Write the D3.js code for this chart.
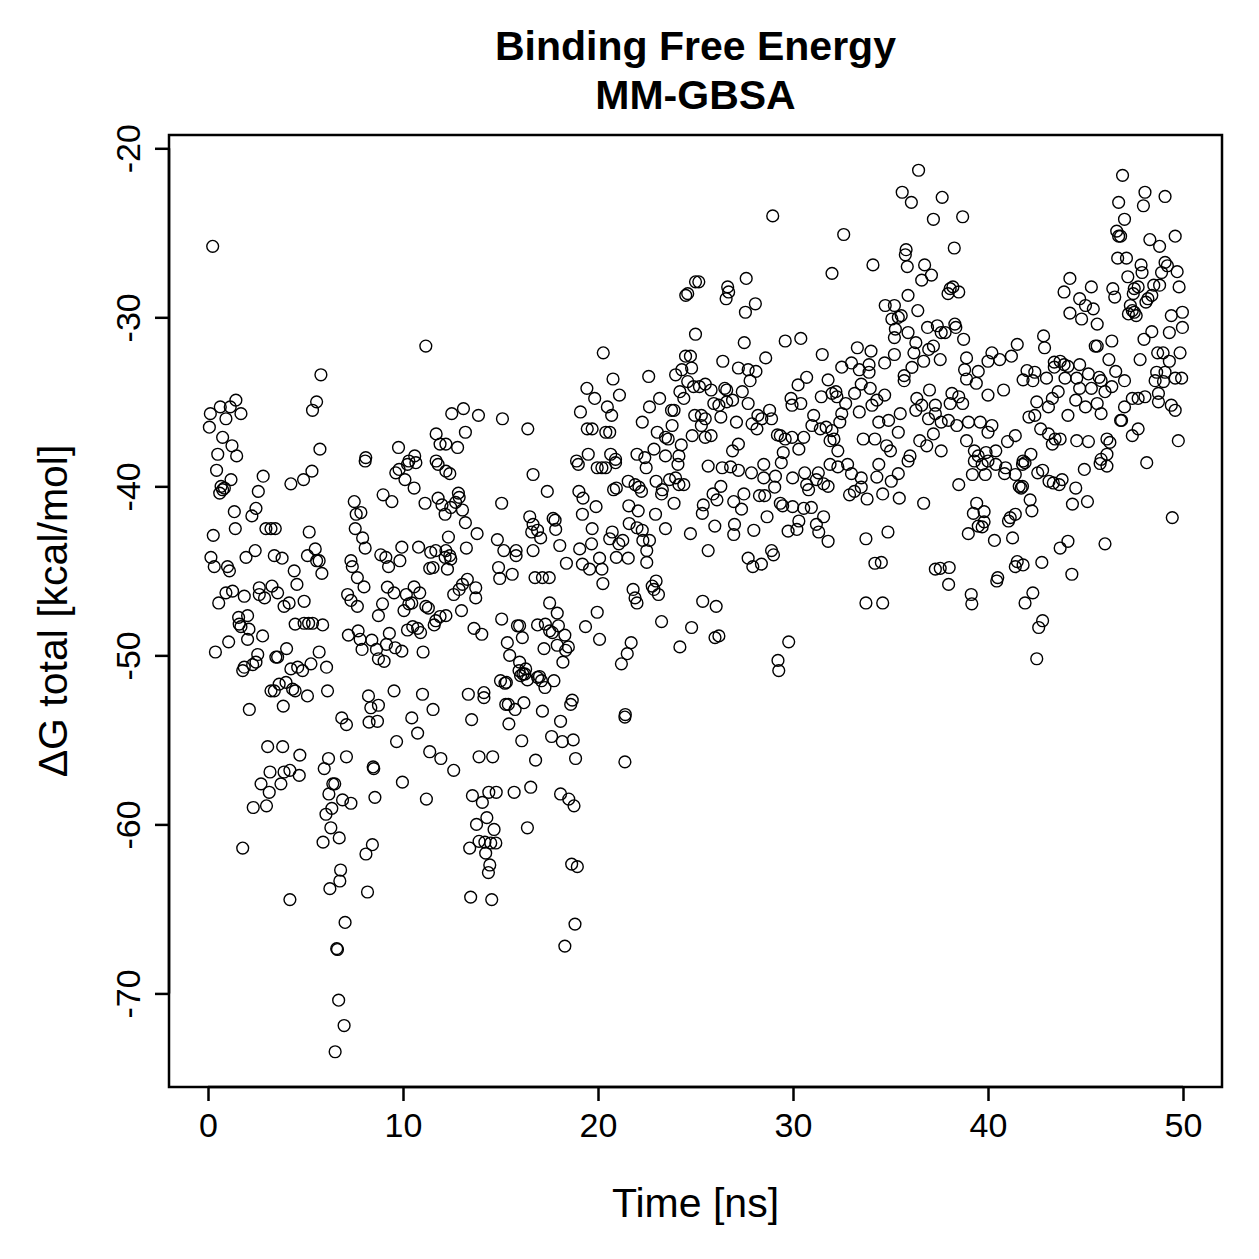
<!DOCTYPE html>
<html>
<head>
<meta charset="utf-8">
<script src="https://cdn.jsdelivr.net/npm/d3@7"></script>
<style>
  html, body { margin: 0; padding: 0; background: #fff; }
  text { font-family: "Liberation Sans", Arial, Helvetica, sans-serif; fill: #000; }
</style>
</head>
<body>
<div id="chart"></div>
<script>
// chart text
const titleLines = ["Binding Free Energy", "MM-GBSA"];
const xLabel = "Time [ns]";
const yLabel = "\u0394G total [kcal/mol]";

// axis ticks
const xTicks = [0, 10, 20, 30, 40, 50];
const yTicks = [-70, -60, -50, -40, -30, -20];
const timeSpan = [0, 50];

// [time (ns), dG total (kcal/mol)]
const frames = [
  [0.24,-25.8],[11.17,-31.7],[5.79,-33.4],[5.57,-35.0],[5.36,-35.5],[1.43,-34.9],[0.63,-35.3],[1.14,-35.3],[0.12,-35.7],[0.92,-36.0],
  [1.69,-35.7],[0.07,-36.5],[0.75,-37.1],[1.23,-37.6],[0.5,-38.1],[1.47,-38.2],[5.74,-37.8],[8.09,-38.3],[9.77,-37.7],[10.6,-38.2],
  [11.7,-36.9],[11.9,-37.5],[11.7,-38.5],[10.3,-38.5],
  [20.27,-32.1],[24.5,-28.7],[24.6,-28.6],[25.0,-27.9],[25.0,-31.0],[24.49,-32.3],[24.74,-32.3],[24.3,-33.1],[24.8,-33.0],[23.98,-33.4],
  [24.6,-33.8],[24.9,-34.1],[24.2,-34.4],[24.4,-34.8],[22.6,-33.5],[23.16,-34.8],[22.64,-35.3],[22.27,-36.2],[23.04,-36.8],[23.46,-37.1],
  [23.6,-37.2],[24.27,-37.55],[22.87,-37.8],[23.46,-38.2],[24.15,-38.2],[23.8,-36.4],[23.77,-35.5],[23.9,-35.5],[24.96,-35.8],[24.83,-37.0],
  [20.77,-33.65],[19.43,-34.2],[19.83,-34.8],[21.1,-34.6],[20.48,-35.3],[20.7,-35.8],[19.1,-35.6],[19.45,-36.6],[19.7,-36.6],[20.4,-36.8],
  [20.6,-36.8],[19.5,-38.1],[20.65,-38.1],[22.0,-38.1],[22.4,-38.3],[20.9,-38.4],[18.9,-38.5],[12.5,-35.7],[13.1,-35.4],[13.87,-35.8],
  [15.1,-36.0],[16.4,-36.6],[13.2,-36.8],[12.8,-37.7],[12.2,-37.5],
  [36.44,-21.3],[35.6,-22.6],[36.07,-23.2],[37.65,-22.9],[37.2,-24.2],[28.96,-24.0],[32.6,-25.1],[35.8,-26.0],[35.76,-26.3],[35.86,-27.0],
  [36.75,-26.9],[37.1,-27.5],[36.6,-27.8],[34.1,-26.9],[32.0,-27.4],[27.6,-27.7],[26.65,-28.2],[26.7,-28.5],[26.57,-28.9],[25.17,-27.9],
  [28.07,-29.2],[27.56,-29.7],[27.5,-31.5],[29.6,-31.4],[30.4,-31.25],[26.4,-32.6],[27.2,-33.0],[27.7,-33.1],[28.1,-33.2],[28.6,-32.4],
  [27.8,-33.75],[25.2,-34.1],[25.5,-33.95],[25.8,-34.3],[26.5,-34.2],[26.6,-34.3],[27.4,-34.4],[25.94,-35.1],[26.2,-35.2],[26.6,-35.0],
  [26.9,-34.9],[27.7,-35.1],[25.3,-35.8],[25.5,-36.0],[26.3,-35.9],[27.1,-36.2],[25.3,-36.4],[25.5,-37.1],[25.8,-37.0],[26.9,-37.9],
  [27.2,-37.5],[27.9,-36.3],[28.15,-36.6],[28.4,-36.0],[28.8,-35.5],[28.9,-36.0],[28.2,-35.8],
  [29.9,-34.8],[29.95,-35.2],[30.4,-35.1],[30.26,-34.0],[30.7,-33.55],[31.8,-33.7],[31.5,-32.2],[31.45,-34.7],[32.0,-34.5],[32.2,-34.4],
  [32.25,-34.7],[32.7,-35.1],[33.16,-34.5],[33.5,-33.95],[33.3,-31.8],[34.0,-32.0],[32.5,-32.95],[33.0,-32.7],[33.4,-33.1],[33.9,-32.8],
  [33.9,-33.25],[33.96,-34.2],[34.7,-34.6],[34.3,-34.9],[34.05,-35.2],[33.4,-35.6],[32.5,-35.7],[32.4,-36.2],[32.0,-36.7],[31.06,-35.8],
  [30.97,-36.4],[31.4,-36.6],[31.7,-36.5],[29.35,-37.0],[29.6,-37.2],[29.95,-37.1],[30.55,-37.1],[29.2,-36.96],[29.5,-38.0],[30.3,-37.8],
  [31.9,-37.3],[32.1,-37.2],[32.3,-37.9],[33.6,-37.2],[34.2,-37.2],[34.4,-36.2],[34.9,-36.1],[34.8,-37.6],[35.5,-35.7],[35.4,-36.8],
  [35.0,-37.9],[36.0,-38.2],
  [34.73,-29.3],[35.2,-29.3],[35.07,-30.1],[35.4,-30.0],[35.55,-29.9],[35.25,-30.7],[35.9,-28.7],[36.4,-29.6],[36.9,-30.6],[37.4,-30.5],
  [37.6,-30.9],[35.9,-30.9],[35.2,-31.2],[36.3,-31.5],[37.2,-31.7],[36.96,-31.9],[37.55,-32.5],[36.2,-32.1],[36.7,-32.6],[36.1,-32.96],
  [35.7,-33.45],[35.7,-33.75],[35.2,-32.2],[34.7,-32.7],[37.0,-34.3],[36.35,-34.8],[36.6,-35.2],[37.3,-35.2],[36.3,-35.5],[37.3,-35.7],
  [36.95,-36.0],[37.6,-36.2],[37.2,-36.9],[36.5,-37.3],[36.86,-37.6],[37.6,-37.9],
  [46.9,-21.6],[48.05,-22.6],[47.97,-23.4],[49.08,-22.85],[46.7,-23.2],[47.0,-24.2],[46.6,-24.9],[46.7,-25.2],[46.8,-25.2],[48.3,-25.4],
  [48.8,-25.8],[49.6,-25.2],[46.65,-26.5],[47.1,-26.5],
  [47.85,-26.9],[47.9,-27.35],[49.08,-26.75],[49.2,-26.95],[48.9,-27.35],[49.7,-27.3],[48.8,-28.1],[49.8,-28.2],[48.5,-28.1],[47.17,-27.6],
  [47.5,-28.3],[47.7,-28.2],[47.45,-28.6],[48.2,-28.9],[48.1,-29.1],[48.4,-28.7],[47.3,-29.3],[47.4,-29.6],[47.6,-29.9],[47.2,-29.8],
  [47.5,-29.7],[46.4,-28.3],[46.5,-28.8],
  [49.4,-29.9],[49.97,-29.7],[49.3,-30.9],[49.97,-30.6],[48.4,-30.85],[48.0,-31.3],[49.85,-32.1],[48.7,-32.1],[48.98,-32.1],[49.3,-32.6],
  [47.8,-32.5],[48.65,-33.25],[49.08,-33.25],[48.57,-33.75],[49.0,-33.8],[49.6,-33.6],[49.93,-33.6],[48.74,-34.5],[48.74,-35.0],[49.6,-35.5],
  [49.4,-35.2],[47.0,-35.3],[47.4,-34.8],[47.7,-34.8],[48.05,-34.7],[46.8,-36.1],[47.4,-37.0],[47.7,-36.6],[49.76,-37.3],
  [38.7,-24.05],[38.27,-25.9],[38.06,-28.3],[38.2,-28.2],[38.5,-28.5],[37.95,-28.6],[38.3,-30.4],[38.35,-30.6],[38.75,-31.3],[37.8,-30.9],
  [38.9,-32.4],[38.8,-33.1],[38.9,-33.65],[39.5,-33.2],[39.4,-33.9],[40.2,-32.1],[40.0,-32.6],[40.6,-32.5],[41.2,-32.3],[41.5,-31.6],
  [40.8,-34.3],[40.0,-34.6],[38.15,-34.5],[38.5,-34.7],[38.7,-35.1],[38.06,-35.1],[39.0,-36.2],[39.6,-36.2],[40.2,-36.4],[40.0,-36.8],
  [41.0,-37.35],[41.4,-37.0],[38.4,-36.4],[37.97,-36.1],[38.9,-37.3],[39.3,-37.9],[39.9,-38.0],[40.4,-37.9],[39.5,-38.2],
  [42.85,-31.1],[42.9,-31.8],[41.8,-33.7],[42.0,-33.15],[42.4,-33.25],[42.3,-33.75],[43.0,-33.6],[43.4,-32.65],[43.7,-32.6],[43.9,-32.8],
  [43.4,-32.95],[44.1,-32.9],[44.7,-32.8],[43.95,-33.6],[44.55,-33.6],[45.15,-33.35],[45.7,-33.55],[45.8,-33.75],[46.55,-33.2],[47.0,-33.75],
  [46.2,-32.5],[46.35,-31.4],[45.6,-31.7],[45.5,-31.7],[42.5,-35.0],[43.3,-34.8],[43.6,-34.4],[43.1,-35.3],[42.4,-35.8],[42.1,-35.9],
  [44.1,-35.8],[44.5,-34.9],[45.0,-35.3],[45.6,-35.1],[45.8,-35.7],[44.7,-34.2],[45.3,-34.2],[46.0,-34.4],[46.35,-34.1],[42.7,-36.6],
  [43.1,-36.9],[43.3,-37.5],[43.44,-37.2],[43.7,-37.2],[44.55,-37.3],[45.15,-37.35],[46.1,-37.2],[46.25,-37.4],[46.85,-36.1],[41.8,-38.5],
  [42.2,-38.1],[46.1,-38.1],[45.8,-38.4],
  [44.2,-27.7],[43.9,-28.5],[45.3,-28.2],[44.7,-28.9],[45.0,-29.3],[45.4,-29.5],[44.2,-29.75],[44.8,-30.1],[45.6,-30.4],
  [0.44,-39.05],[1.18,-39.6],[0.67,-40.0],[0.75,-40.2],[0.6,-40.4],[0.84,-40.1],[2.83,-39.4],[2.58,-40.3],[1.35,-41.5],[2.46,-41.3],
  [2.25,-41.75],[1.4,-42.5],[0.27,-42.9],[2.97,-42.5],[3.23,-42.5],[3.45,-42.5],[4.25,-39.85],[4.9,-39.6],[5.33,-39.1],[5.19,-42.7],
  [0.15,-44.2],[0.32,-44.75],[1.0,-44.75],[1.1,-45.0],[1.95,-44.2],[2.42,-43.8],[3.4,-44.1],[3.8,-44.25],[5.1,-44.1],[5.5,-43.7],
  [5.57,-44.4],[5.7,-44.4],[4.42,-45.0],[5.84,-45.15],[4.56,-45.8],
  [0.55,-46.9],[0.92,-46.3],[1.26,-46.2],[1.86,-46.5],[2.63,-46.0],[2.63,-46.4],[2.9,-46.6],[3.28,-45.9],[3.57,-46.3],[3.9,-47.1],
  [4.16,-46.9],[4.93,-46.8],
  [1.57,-47.75],[2.03,-47.65],[1.6,-48.15],[1.69,-48.3],[2.1,-48.45],[2.03,-49.05],[2.8,-48.85],[1.06,-49.2],[0.38,-49.8],[4.47,-48.15],
  [4.93,-48.1],[5.16,-48.1],[5.36,-48.1],[5.88,-48.2],[2.55,-49.95],[3.48,-50.1],[4.03,-49.6],[3.57,-50.1],[1.78,-50.9],[2.29,-50.55],
  [2.46,-50.4],[1.86,-50.7],[4.25,-50.8],[4.6,-50.7],[4.85,-50.9],[5.28,-50.5],[5.7,-49.8],[6.08,-50.7],
  [3.4,-52.1],[3.65,-51.7],[4.0,-51.6],[4.34,-52.0],[4.47,-52.1],[5.1,-52.4],[6.13,-52.1],[3.23,-52.1],[2.12,-53.2],[3.86,-53.0],
  [3.06,-55.4],[3.83,-55.4],[4.71,-55.9],[6.18,-56.1],[7.1,-56.0],
  [8.06,-38.5],[9.63,-39.2],[9.8,-39.0],[10.1,-39.6],[10.57,-40.1],[10.23,-38.7],[10.66,-38.6],[11.8,-38.7],[12.2,-39.1],[7.5,-40.9],
  [7.6,-41.65],[7.84,-41.55],[7.55,-42.5],[7.93,-43.05],[8.06,-43.65],[8.98,-40.5],[9.43,-40.9],[11.13,-41.0],[11.8,-40.7],[12.0,-41.1],
  [12.16,-41.65],
  [7.33,-44.4],[7.4,-44.75],[7.66,-45.4],[8.0,-45.95],[8.86,-44.05],[9.12,-44.2],[9.26,-44.75],[9.84,-44.4],[9.94,-43.6],[10.8,-43.6],
  [11.42,-43.9],[11.68,-43.8],[12.16,-44.2],[11.37,-44.85],[11.54,-44.8],
  [7.16,-46.4],[7.33,-46.75],[7.66,-47.1],[8.74,-47.65],[8.95,-46.95],[9.2,-45.96],[9.54,-46.3],[10.17,-46.4],[10.57,-45.95],[10.86,-46.3],
  [10.05,-47.35],[10.3,-46.95],[10.45,-46.9],[11.17,-47.1],[11.3,-47.2],[11.68,-47.95],[11.6,-48.2],[11.9,-47.7],
  [7.2,-48.8],[7.7,-48.55],[7.8,-49.05],[7.9,-49.65],[8.4,-49.1],[8.64,-49.65],[8.74,-50.2],[9.03,-50.35],[9.15,-49.35],[9.3,-48.7],
  [9.6,-49.55],[9.94,-49.75],[10.23,-48.5],[10.5,-48.3],[10.75,-48.4],[10.9,-48.65],[11.03,-49.8],
  [8.23,-52.4],[8.35,-53.1],[8.74,-52.95],[9.54,-52.1],[8.26,-53.95],[8.69,-53.9],[6.86,-53.7],[7.1,-54.1],[9.67,-55.1],[10.45,-53.7],
  [10.75,-54.6],[11.0,-52.3],[11.54,-53.2],[11.37,-55.7],[11.94,-56.1],
  [12.4,-39.25],[12.84,-40.4],[12.88,-40.65],[12.7,-40.95],[12.45,-41.25],[13.05,-41.4],[13.2,-42.15],[13.8,-42.8],[13.25,-43.65],[12.33,-43.0],
  [12.2,-43.8],[12.4,-44.1],[12.45,-44.3],[12.28,-44.9],[13.3,-45.5],[13.05,-45.8],[12.88,-46.1],[12.6,-46.4],[13.73,-46.0],[13.73,-46.6],
  [13.0,-47.35],[12.2,-47.65],
  [16.67,-39.3],[17.4,-40.3],[15.06,-41.0],
  [16.5,-41.8],[16.67,-42.25],[16.6,-42.7],[16.9,-42.6],[17.06,-43.05],[17.7,-41.9],[17.8,-42.0],[17.83,-42.55],[18.04,-43.5],[18.38,-44.55],
  [16.67,-43.8],[15.8,-43.8],[15.8,-44.1],[15.17,-43.8],[14.84,-43.15],[14.9,-44.8],[14.96,-45.45],[15.6,-45.2],[16.77,-45.4],[17.15,-45.4],
  [17.5,-45.4],
  [18.99,-38.7],[19.96,-38.9],[20.2,-38.9],[20.39,-38.9],[20.9,-38.6],[19.02,-40.3],[19.23,-40.7],[19.9,-41.2],[19.2,-41.65],[19.7,-42.5],
  [19.06,-43.7],[19.2,-44.6],[19.57,-44.9],[19.67,-43.4],[20.08,-44.25],[20.2,-44.9],[20.25,-45.75],[20.6,-43.1],[20.73,-42.7],[21.07,-43.4],
  [21.27,-43.2],[20.94,-44.2],[21.55,-44.25],[21.58,-41.15],[22.06,-41.45],[21.6,-42.2],[22.0,-42.45],[22.27,-42.6],[22.3,-43.2],[22.64,-43.2],
  [22.5,-43.8],[22.5,-44.5],[22.95,-41.65],[23.46,-42.5],[21.55,-39.7],[21.9,-39.9],[22.1,-40.05],[22.23,-40.3],[22.47,-38.9],[22.98,-39.7],
  [23.3,-40.2],[23.26,-40.45],[23.67,-39.6],[23.98,-39.5],[24.15,-39.9],[24.4,-39.9],[23.9,-41.0],[20.94,-40.1],[20.8,-40.2],[24.1,-38.7],
  [24.74,-42.8],[21.8,-46.1],[21.9,-46.6],[22.0,-46.9],[22.78,-45.9],[22.87,-46.1],[23.1,-46.4],[22.98,-45.6],[23.26,-48.0],[24.8,-48.35],
  [24.2,-49.5],
  [19.36,-48.3],[19.96,-47.45],[20.08,-49.05],[21.7,-49.25],[21.5,-49.9],[21.2,-50.5],[21.4,-53.5],[21.38,-53.65],[21.38,-56.3],
  [17.52,-46.9],[17.91,-47.5],[17.3,-48.15],[16.9,-48.2],[17.52,-48.55],[17.66,-48.65],[17.97,-48.25],[18.3,-48.8],[18.48,-49.5],[18.34,-49.7],
  [18.2,-50.4],[17.23,-49.6],[17.91,-49.4],[16.12,-48.95],[15.87,-48.25],[15.98,-48.25],[15.06,-47.85],[14.04,-48.75],[13.64,-48.4],[15.35,-49.25],
  [15.47,-50.0],[15.98,-50.4],[16.29,-50.8],[16.25,-51.1],[16.38,-51.45],[17.0,-51.25],[17.1,-51.5],[17.74,-51.5],[17.28,-51.9],[16.03,-51.2],
  [15.3,-51.6],[15.0,-51.5],[15.23,-51.65],[18.68,-52.65],[18.6,-52.9],[17.15,-53.3],[18.08,-53.9],[17.62,-54.8],[18.17,-55.1],[18.73,-55.0],
  [16.09,-55.05],[15.43,-54.05],[16.2,-52.8],[15.75,-53.2],[15.4,-52.9],[15.27,-52.9],[14.15,-52.2],[14.15,-52.5],[13.35,-52.3],[13.52,-53.8],
  [13.9,-56.0],[14.6,-56.0],[16.8,-56.2],[18.85,-56.1],[16.9,-51.3],[15.95,-50.9],[16.15,-51.1],
  [25.65,-38.8],[26.37,-38.9],[26.8,-38.85],[27.2,-39.05],[27.87,-39.2],[28.5,-39.5],[29.1,-39.4],[28.5,-38.7],[29.06,-40.05],[29.4,-38.6],
  [29.98,-39.5],[30.6,-39.2],[31.3,-39.2],[30.7,-39.9],[30.8,-40.2],[31.2,-39.6],[31.57,-39.85],[31.8,-40.0],[31.9,-38.7],[32.3,-38.85],
  [32.8,-38.7],[33.0,-39.25],[33.5,-39.5],[33.5,-40.05],[33.15,-40.3],[32.9,-40.5],[34.3,-39.45],[34.4,-38.7],[35.04,-39.7],[35.4,-39.25],
  [34.6,-40.45],[35.45,-40.7],[36.7,-41.0],[33.8,-40.75],[35.9,-38.5],
  [25.4,-41.1],[25.9,-40.45],[26.1,-40.8],[25.35,-41.6],[26.3,-40.0],[25.99,-42.35],[26.96,-40.9],[27.36,-41.35],[27.48,-40.45],[27.0,-42.25],
  [26.96,-42.85],[27.99,-42.6],[28.28,-40.55],[28.55,-40.55],[28.67,-41.8],[29.35,-41.0],[29.47,-41.15],[29.98,-41.2],[30.3,-42.05],[30.55,-41.3],
  [30.94,-41.25],[30.2,-42.55],[29.75,-42.65],[31.2,-42.25],[31.32,-42.7],[31.57,-41.8],[31.8,-43.25],[25.65,-43.8],[27.7,-44.25],[27.94,-44.75],
  [28.38,-44.6],[28.9,-43.8],[29.0,-44.05],[33.74,-43.1],[34.87,-42.7],[34.2,-44.55],[34.53,-44.5],[37.3,-44.9],[37.55,-44.85],[25.37,-46.8],
  [26.06,-47.1],[33.74,-46.9],[34.6,-46.9],[26.0,-48.95],[26.2,-48.85],[29.78,-49.2],[29.23,-50.3],[29.27,-50.9],
  [39.3,-38.5],[40.0,-38.5],[39.7,-38.7],[40.4,-38.7],[40.9,-38.9],[40.85,-39.25],[41.4,-39.3],[39.2,-39.3],[39.86,-39.3],[38.5,-39.9],
  [41.77,-38.7],[41.9,-38.6],[42.55,-39.2],[42.8,-39.05],[43.13,-39.7],[43.35,-39.8],[43.65,-39.9],[43.8,-39.6],[44.5,-40.1],[44.94,-39.0],
  [45.75,-38.65],[46.1,-38.8],[48.14,-38.6],[44.33,-41.05],[45.1,-40.9],[39.42,-41.0],[39.25,-41.6],[39.8,-41.5],[39.8,-42.1],[39.5,-42.35],
  [39.7,-42.4],[38.99,-42.8],[40.33,-43.2],[41.05,-42.05],[41.14,-41.85],[41.4,-41.65],[41.6,-40.0],[41.7,-40.1],[41.77,-40.0],[42.16,-40.8],
  [42.25,-41.45],[41.26,-43.05],[46.0,-43.4],[49.45,-41.85],[43.7,-43.65],[44.1,-43.25],[42.76,-44.5],[41.5,-44.45],[41.4,-44.75],[41.8,-44.65],
  [44.3,-45.2],[38.01,-44.8],[37.98,-45.8],[40.5,-45.4],[40.45,-45.6],[39.14,-46.4],[39.17,-46.95],[42.3,-46.3],[41.9,-46.9],[42.8,-47.95],
  [42.6,-48.35],[42.5,-50.2],
  [3.18,-56.9],[3.9,-56.9],[4.2,-56.8],[4.68,-57.1],[2.72,-57.6],[3.74,-57.6],[3.14,-58.1],[2.32,-59.0],[3.0,-58.9],[5.96,-56.7],
  [6.4,-57.6],[6.5,-57.6],[6.2,-58.2],[6.9,-58.55],[7.33,-58.75],[6.35,-59.05],[6.05,-59.4],[6.3,-60.2],[6.73,-60.8],[5.9,-61.05],
  [8.47,-56.6],[8.5,-56.7],[9.97,-57.5],[8.56,-58.4],[11.2,-58.5],[8.43,-61.2],[8.1,-61.75],[1.78,-61.4],[6.8,-62.7],[6.76,-63.35],
  [6.25,-63.8],[8.18,-64.0],[4.2,-64.45],[7.03,-65.8],[6.6,-67.35],[6.64,-67.4],[6.7,-70.4],[6.98,-71.9],[6.52,-73.45],
  [12.6,-56.8],[13.56,-58.3],[14.07,-58.7],[14.4,-58.1],[14.78,-58.1],[15.7,-58.1],[16.55,-57.8],[18.08,-58.2],[18.5,-58.5],[18.77,-58.9],
  [14.3,-59.6],[13.77,-60.0],[14.67,-60.3],[16.38,-60.2],[13.42,-61.4],[13.9,-61.0],[14.2,-61.05],[14.5,-61.1],[14.76,-61.1],[14.24,-61.7],
  [14.45,-62.4],[14.38,-62.85],[18.65,-62.35],[18.94,-62.5],[13.47,-64.3],[14.55,-64.45],[18.82,-65.9],[18.3,-67.2]
];

// layout
const W = 1259, H = 1259;
const box = { left: 169, right: 1222, top: 135, bottom: 1087 };

const svg = d3.select("#chart").append("svg")
    .attr("width", W)
    .attr("height", H)
    .style("display", "block");

svg.append("rect").attr("width", W).attr("height", H).attr("fill", "#fff");

// R style 4% padding of the data range
function padded(ext) {
    var d = (ext[1] - ext[0]) * 0.04;
    return [ext[0] - d, ext[1] + d];
}

const x = d3.scaleLinear().domain(padded(timeSpan)).range([box.left, box.right]);
const y = d3.scaleLinear().domain(padded(d3.extent(frames, d => d[1]))).range([box.bottom, box.top]);

// points
svg.append("g")
    .attr("class", "points")
    .selectAll("circle")
    .data(frames)
    .enter()
    .append("circle")
    .attr("cx", d => x(d[0]))
    .attr("cy", d => y(d[1]))
    .attr("r", 5.9)
    .attr("fill", "none")
    .attr("stroke", "#000")
    .attr("stroke-width", 1.4);

// frame
svg.append("rect")
    .attr("x", box.left)
    .attr("y", box.top)
    .attr("width", box.right - box.left)
    .attr("height", box.bottom - box.top)
    .attr("fill", "none")
    .attr("stroke", "#000")
    .attr("stroke-width", 2.5);

// axes
const xAxis = d3.axisBottom(x).tickValues(xTicks).tickSize(14).tickPadding(10).tickFormat(d3.format("d"));
const gx = svg.append("g").attr("transform", "translate(0," + box.bottom + ")").call(xAxis);

const yAxis = d3.axisLeft(y).tickValues(yTicks).tickSize(14).tickFormat(d => String(d));
const gy = svg.append("g").attr("transform", "translate(" + box.left + ",0)").call(yAxis);

[gx, gy].forEach(g => {
    g.select(".domain").attr("stroke", "#000").attr("stroke-width", 2.5)
        .attr("d", g === gx
            ? "M" + x(xTicks[0]) + ",0H" + x(xTicks[xTicks.length - 1])
            : "M0," + y(yTicks[0]) + "V" + y(yTicks[yTicks.length - 1]));
    g.selectAll(".tick line").attr("stroke", "#000").attr("stroke-width", 2.5);
    g.selectAll(".tick text")
        .attr("font-family", '"Liberation Sans", Arial, sans-serif')
        .attr("font-size", 34)
        .attr("fill", "#000");
});

gx.selectAll(".tick text").attr("y", 39).attr("dy", "0.32em");

// y tick labels are rotated (las = 0)
gy.selectAll(".tick text")
    .attr("x", null).attr("dy", null)
    .attr("text-anchor", "middle")
    .attr("dominant-baseline", "central")
    .attr("transform", "translate(-41,0) rotate(-90)");

// axis titles
svg.append("text")
    .attr("x", (box.left + box.right) / 2)
    .attr("y", 1203)
    .attr("text-anchor", "middle")
    .attr("dominant-baseline", "central")
    .attr("font-size", 41)
    .text(xLabel);

svg.append("text")
    .attr("transform", "translate(53," + ((box.top + box.bottom) / 2) + ") rotate(-90)")
    .attr("text-anchor", "middle")
    .attr("dominant-baseline", "central")
    .attr("font-size", 41)
    .text(yLabel);

// main title
svg.append("g")
    .selectAll("text")
    .data(titleLines)
    .enter()
    .append("text")
    .attr("x", (box.left + box.right) / 2)
    .attr("y", (d, i) => 46 + i * 49)
    .attr("text-anchor", "middle")
    .attr("dominant-baseline", "central")
    .attr("font-size", 41)
    .attr("font-weight", "bold")
    .text(d => d);
</script>
</body>
</html>
